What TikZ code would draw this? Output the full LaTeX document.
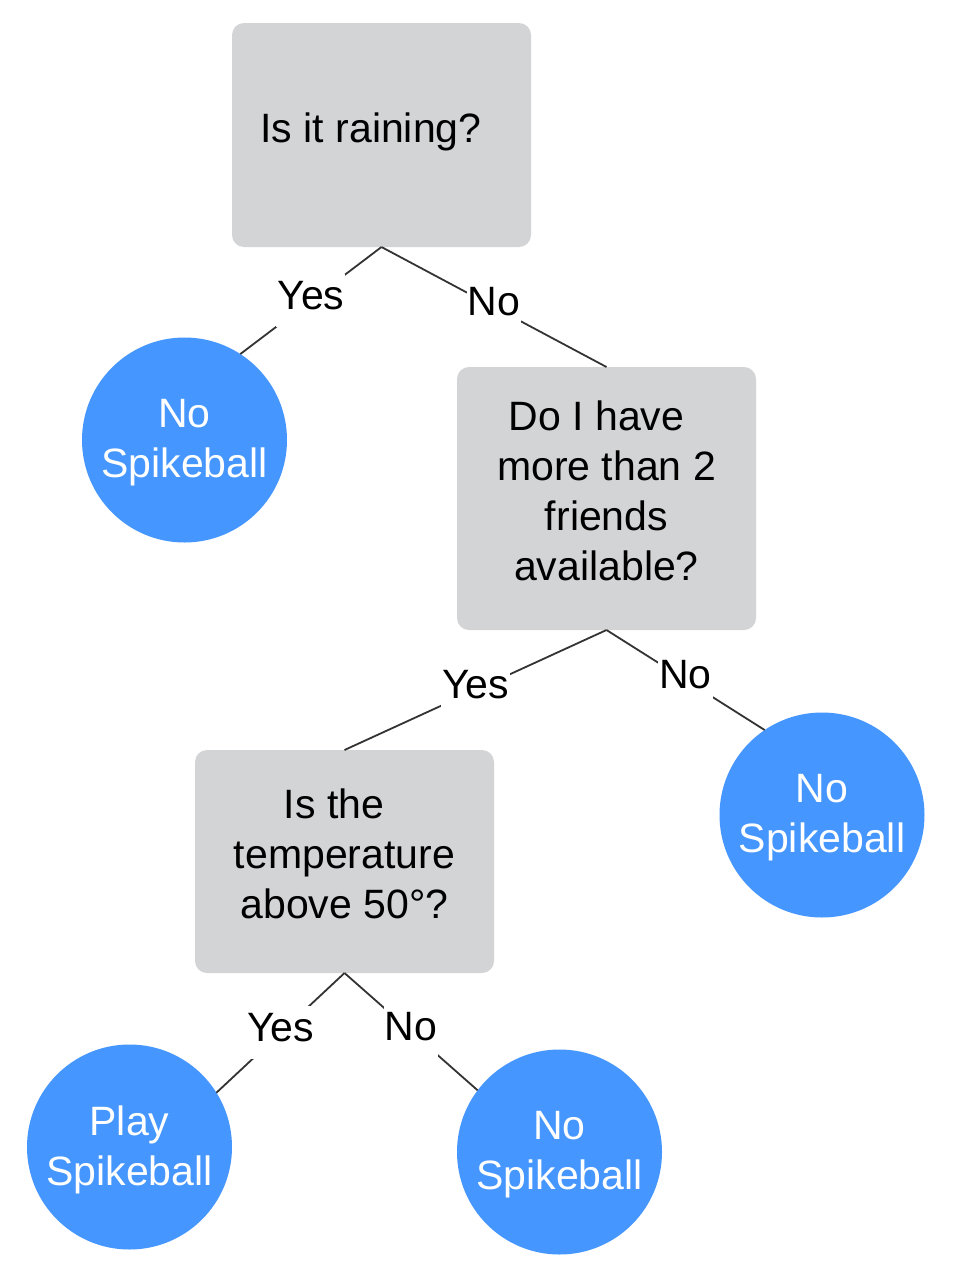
\documentclass[tikz,border=0pt]{standalone}
\usepackage{fontspec}
\setmainfont{Liberation Sans}
\definecolor{boxgray}{HTML}{D3D4D6}
\definecolor{leafblue}{HTML}{4596FE}
\definecolor{linegray}{HTML}{333333}
\begin{document}
\begin{tikzpicture}[x=1pt,y=-1pt,
  qbox/.style={fill=boxgray, rounded corners=12pt, minimum width=299pt, inner sep=0pt, outer sep=0pt},
  qtext/.style={font=\fontsize{41}{50}\selectfont, align=center, inner sep=0pt, text=black},
  leaf/.style={circle, fill=leafblue, minimum size=205pt, inner sep=0pt, outer sep=0pt, text=white, font=\fontsize{41}{50}\selectfont, align=center},
  leaftext/.style={font=\fontsize{41}{50}\selectfont, align=center, inner sep=0pt, text=white},
  edge/.style={draw=linegray, line width=1.8pt},
  elabel/.style={fill=white, text=black, font=\fontsize{41}{50}\selectfont, text height=34pt, text depth=17pt, inner xsep=1pt, inner ysep=1pt}
]
\useasboundingbox[fill=white] (0,0) rectangle (953,1275);

% question boxes
\node[qbox, minimum height=224pt] (q1) at (381.5,135) {};
\node[qtext] (q1t) at (371,132.3) {Is it raining?};

\node[qbox, minimum height=263pt] (q2) at (606.5,498.5) {};
\node[qtext] (q2t) at (606.5,491) {Do I have\hspace*{20pt}\\more than 2\\friends\\available?};

\node[qbox, minimum height=223pt] (q3) at (344.5,861.5) {};
\node[qtext] (q3t) at (344.5,853.8) {Is the\hspace*{21pt}\\temperature\\above 50°?};

% leaves
\node[leaf] (c1) at (184.5,440) {};
\node[leaftext] (c1t) at (184.5,442.5) {No\\Spikeball};
\node[leaf] (c2) at (822,815) {};
\node[leaftext] (c2t) at (822,817.5) {No\\Spikeball};
\node[leaf] (c3) at (129.5,1147) {};
\node[leaftext] (c3t) at (129.5,1149.5) {Play\\Spikeball};
\node[leaf] (c4) at (559.5,1152) {};
\node[leaftext] (c4t) at (559.5,1154.5) {No\\Spikeball};

% connectors
\draw[edge] (q1.south) -- node[elabel] (l1) {Yes} (c1.57);
\draw[edge] (q1.south) -- node[elabel] (l2) {No} (q2.north);
\draw[edge] (q2.south) -- node[elabel] (l3) {Yes} (q3.north);
\draw[edge] (q2.south) -- node[elabel] (l4) {No} (c2.124);
\draw[edge] (q3.south) -- node[elabel] (l5) {Yes} (c3.32);
\draw[edge] (q3.south) -- node[elabel] (l6) {No} (c4.143);
\end{tikzpicture}
\end{document}
